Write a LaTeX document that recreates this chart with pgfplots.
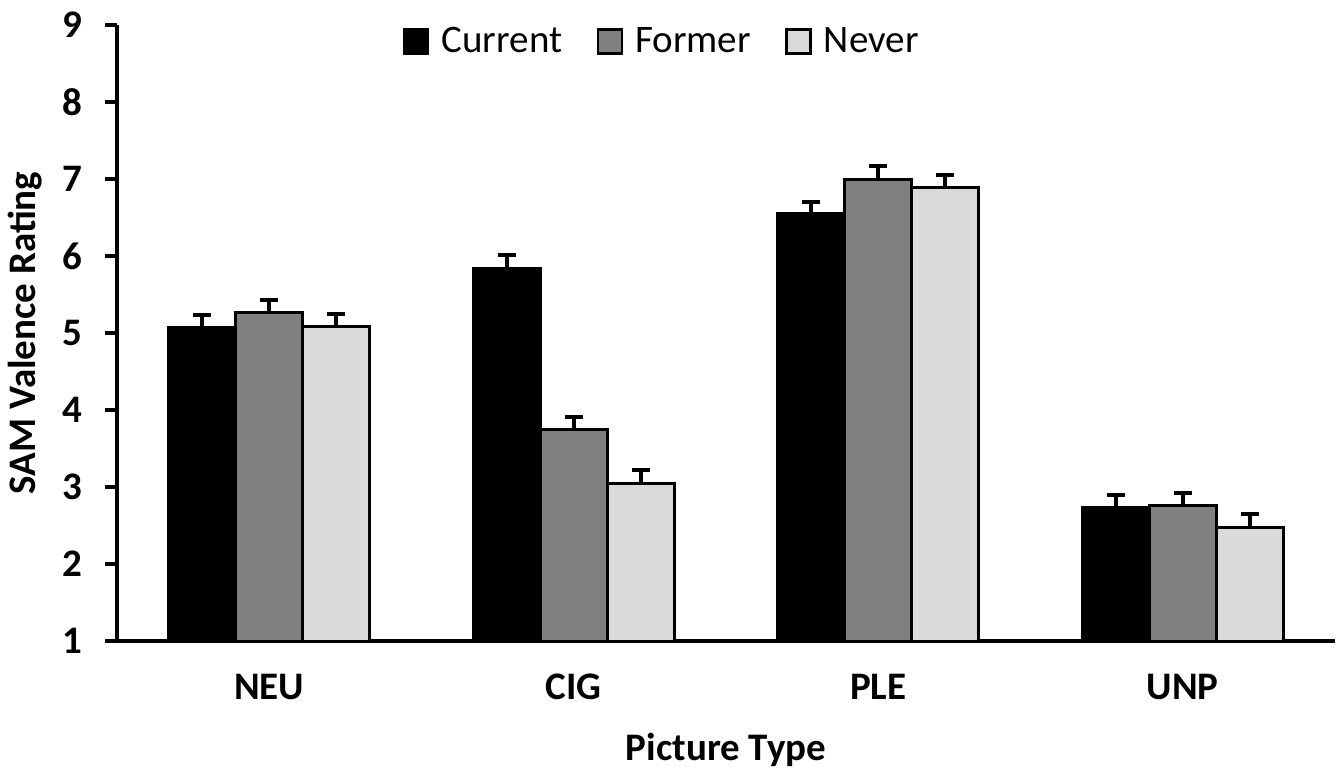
\documentclass[border=0pt]{standalone}
\usepackage{pgfplots}
\pgfplotsset{compat=1.18}
\usepackage{pgfplotstable}
\usepackage{fontspec}
\setmainfont{Carlito}
\definecolor{cur}{gray}{0}
\definecolor{form}{gray}{0.5}
\definecolor{nev}{gray}{0.855}

\pgfplotstableread{
x y e
0 5.07 0.16
1 5.84 0.17
2 6.55 0.15
3 2.73 0.165
}\current
\pgfplotstableread{
x y e
0 5.26 0.17
1 3.75 0.16
2 6.99 0.18
3 2.76 0.16
}\former
\pgfplotstableread{
x y e
0 5.08 0.17
1 3.05 0.17
2 6.89 0.165
3 2.48 0.17
}\never

\begin{document}
\begin{tikzpicture}
\begin{axis}[
  name=ax,
  scale only axis,
  width=609pt, height=308pt,
  ybar=0pt, bar width=33.5pt,
  xmin=-0.5, xmax=3.5,
  ymin=1, ymax=9,
  ytick={1,2,...,9},
  xtick={0,1,2,3},
  xticklabels={NEU,CIG,PLE,UNP},
  major x tick style={draw=none},
  axis x line*=bottom,
  axis y line*=left,
  axis line style={line width=2pt},
  y axis line style={-}, x axis line style={-},
  tick style={line width=2pt, black},
  ytick align=outside, major tick length=6pt,
  tick label style={font=\fontsize{19.5}{23}\selectfont\bfseries},
  /pgf/number format/assume math mode=true,
  yticklabel style={xshift=-8pt},
  xticklabel style={yshift=-7pt},
  every axis x label/.style={at={(axis description cs:0.5,0)}, anchor=center, yshift=-54.5pt},
  every axis y label/.style={at={([xshift=-46pt]axis description cs:0,0.5)}, anchor=center, rotate=90},
  xlabel={Picture Type},
  ylabel={SAM Valence Rating},
  label style={font=\fontsize{19.5}{23}\selectfont\bfseries},
  legend style={at={(0.448,1.01)}, anchor=north, draw=none, fill=none,
    legend columns=3, font=\fontsize{19.5}{23}\selectfont,
    /tikz/every even column/.append style={column sep=15pt}},
  legend image code/.code={\path (-3pt,0) (13pt,0); \draw[#1, line width=1.2pt] (-3pt,-6pt) rectangle (9pt,6pt);},
  every axis plot/.append style={draw=black, line width=1.5pt},
  error bars/error bar style={line width=2pt, black},
  error bars/error mark options={rotate=90, mark size=4.5pt, line width=2pt, black},
]
\addplot[fill=cur, error bars/.cd, y dir=plus, y explicit] table[x=x, y=y, y error=e]{\current};
\addplot[fill=form, error bars/.cd, y dir=plus, y explicit] table[x=x, y=y, y error=e]{\former};
\addplot[fill=nev, error bars/.cd, y dir=plus, y explicit] table[x=x, y=y, y error=e]{\never};
\legend{Current, Former, Never}
\end{axis}
\pgfresetboundingbox
\path[use as bounding box] ([shift={(-58.5pt,-65pt)}]ax.south west) rectangle ([shift={(2pt,12.5pt)}]ax.north east);
\end{tikzpicture}
\end{document}
